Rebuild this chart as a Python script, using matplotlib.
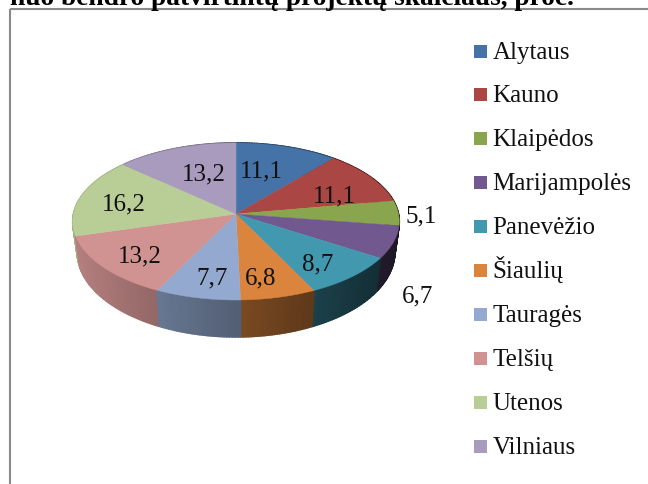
import numpy as np
import matplotlib
matplotlib.use('Agg')
import matplotlib.pyplot as plt
from matplotlib.colors import to_rgb
from matplotlib.patches import Polygon, Rectangle

regions = ['Alytaus', 'Kauno', 'Klaipėdos', 'Marijampolės', 'Panevėžio',
           'Šiaulių', 'Tauragės', 'Telšių', 'Utenos', 'Vilniaus']
shares = [11.1, 11.1, 5.1, 6.7, 8.7, 6.8, 7.7, 13.2, 16.2, 13.2]
share_labels = ['11,1', '11,1', '5,1', '6,7', '8,7', '6,8', '7,7', '13,2', '16,2', '13,2']
colors = ['#4572A7', '#AA4643', '#89A54E', '#71588F', '#4198AF',
          '#DB843D', '#93A9CF', '#D19392', '#B9CD96', '#A99BBD']
# where the value labels sit, in image pixels
label_pos = [(261, 171), (334, 196), (421, 216), (418, 296), (318, 264),
             (261, 278), (212, 278), (140, 256), (124, 204), (204, 174)]

title = 'nuo bendro patvirtintų projektų skaičiaus, proc.'
serif = ['Liberation Serif', 'DejaVu Serif']

# pie geometry in image pixels (top face and the narrower bottom edge)
cx = 236
persp = 0.0955
top_y, top_rx, top_ry = 214, 162.5, 77.8
bot_y, bot_rx, bot_ry = 244, 158, 84

# legend layout in image pixels
legend_x, legend_y, legend_step, legend_box = 474, 51, 43.9, 13


def project(t, y0, rx, ry):
    w = 1 + persp * np.cos(t)
    return cx + rx * np.sin(t) / w, y0 - ry * np.cos(t) / w


fig = plt.figure(figsize=(6.48, 4.84), dpi=100)
ax = fig.add_axes([0, 0, 1, 1])
ax.set_xlim(0, 648)
ax.set_ylim(484, 0)
ax.axis('off')

# chart frame, cut by the page on the right and at the bottom
ax.add_patch(Rectangle((10, 9), 700, 600, fill=False, ec='#8a8a8a', lw=1.5))
ax.text(10, 5, title, family=serif, fontsize=19.7, fontweight='bold', va='baseline', clip_on=False)

edges = np.cumsum([0] + shares) / sum(shares) * 2 * np.pi

# side wall, back to front
strips = []
for i in range(len(shares)):
    ts = np.linspace(edges[i], edges[i + 1], int(shares[i] * 4) + 2)
    for a, b in zip(ts[:-1], ts[1:]):
        strips.append((np.cos((a + b) / 2), a, b, colors[i]))
strips.sort(key=lambda s: -s[0])
for _, a, b, col in strips:
    xa, ya = project(a, top_y, top_rx, top_ry)
    xb, yb = project(b, top_y, top_rx, top_ry)
    xc, yc = project(b, bot_y, bot_rx, bot_ry)
    xd, yd = project(a, bot_y, bot_rx, bot_ry)
    shade = 0.88 - 0.63 * (np.sin((a + b) / 2) + 1) / 2
    side = tuple(c * shade for c in to_rgb(col))
    ax.add_patch(Polygon([(xa, ya), (xb, yb), (xc, yc), (xd, yd)], fc=side, ec=side, lw=1.2))

# top face
for i in range(len(shares)):
    ts = np.linspace(edges[i], edges[i + 1], 80)
    xs, ys = project(ts, top_y, top_rx, top_ry)
    pts = [(cx, top_y)] + list(zip(xs, ys))
    ax.add_patch(Polygon(pts, fc=colors[i], ec=colors[i], lw=0.3))

for (x, y), txt in zip(label_pos, share_labels):
    ax.text(x, y, txt, family=serif, fontsize=18, color='#111111', ha='center', va='center')

# legend, drawn by hand so the rows stay evenly spaced
for i, (name, col) in enumerate(zip(regions, colors)):
    y = legend_y + i * legend_step
    ax.add_patch(Rectangle((legend_x, y - legend_box / 2), legend_box, legend_box, fc=col, ec='none'))
    ax.text(legend_x + 18.5, y + 7.5, name, family=serif, fontsize=18, color='#111111', va='baseline')

fig.savefig('out.png', dpi=100)
